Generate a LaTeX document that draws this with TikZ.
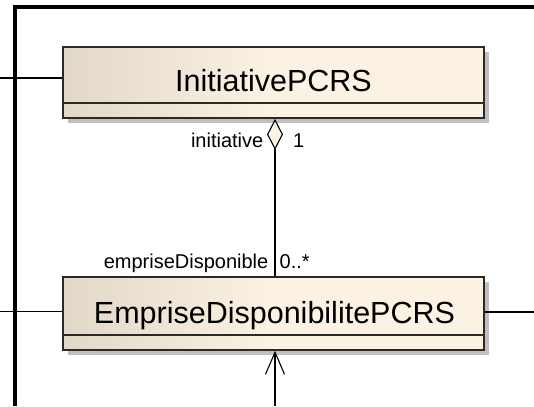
\documentclass[tikz,border=0pt]{standalone}
\usepackage{fontspec}
\setmainfont{Liberation Sans}
\usetikzlibrary{arrows.meta,shadows}
\definecolor{beigeL}{HTML}{E2D8C9}
\definecolor{beigeR}{HTML}{FCF2E4}
\definecolor{boxline}{HTML}{2A2A2A}
\definecolor{shadowgray}{HTML}{C0C0C0}
\begin{document}
\begin{tikzpicture}[x=1pt,y=-1pt,
  classbox/.style={draw=boxline, line width=1.8pt, left color=beigeL, right color=beigeR, middle color=beigeR,
    inner sep=0pt, minimum width=421pt,
    drop shadow={shadow xshift=5pt, shadow yshift=-5pt, fill=shadowgray, opacity=1}},
  divider/.style={draw=boxline, line width=1.5pt},
  classname/.style={font=\fontsize{30.5}{36}\selectfont, anchor=base, inner sep=0pt},
  role/.style={font=\fontsize{20}{24}\selectfont, anchor=base east, inner sep=0pt},
  mult/.style={font=\fontsize{20}{24}\selectfont, anchor=base west, inner sep=0pt},
  conn/.style={draw=black, line width=1.1pt},
  frameline/.style={line width=4.6pt, black}]
\useasboundingbox (0,0) rectangle (534,406);

% frame
\coordinate (fb) at (15,406);
\coordinate (fc) at (15,7);
\coordinate (fr) at (534,7);
\draw[frameline] (fb) -- (fc) -- (fr);

% classes
\node[classbox, minimum height=71pt] (c1) at (273.5,82.5) {};
\node[classbox, minimum height=73pt] (c2) at (273.5,313.5) {};
\draw[divider] ([yshift=16pt]c1.south west) -- ([yshift=16pt]c1.south east);
\draw[divider] ([yshift=16pt]c2.south west) -- ([yshift=16pt]c2.south east);
\node[classname] (n1) at (273.5,92) {InitiativePCRS};
\node[classname] (n2) at (274.5,323.5) {EmpriseDisponibilitePCRS};

% side connectors
\coordinate (l1) at (0,78);
\coordinate (l2) at (0,311.5);
\coordinate (r2) at (534,312);
\draw[conn] (l1) -- (c1.west |- l1);
\draw[conn] (l2) -- (c2.west |- l2);
\draw[conn] (c2.east |- r2) -- (r2);

% association
\coordinate (ax) at (275,0);
\draw[conn, {Diamond[length=31pt,width=16pt,fill=beigeR]}-] (c1.south -| ax) -- (c2.north -| ax);
\coordinate (b) at (275,406);
\draw[conn, -{Straight Barb[length=22pt,width=19pt]}] (b) -- (c2.south -| ax);

% labels
\node[role] (r1) at (263.5,147) {initiative};
\node[mult] (m1) at (293,147) {1};
\node[role] (r2l) at (268.5,268) {empriseDisponible};
\node[mult] (m2) at (279.5,268) {0..*};
\end{tikzpicture}
\end{document}
